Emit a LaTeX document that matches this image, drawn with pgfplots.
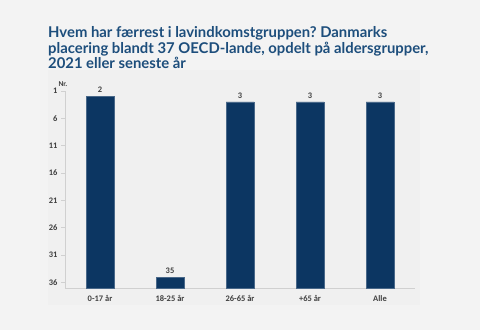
\documentclass[border=0pt]{standalone}
\usepackage{pgfplots}
\pgfplotsset{compat=1.18}
\usepackage{pgfplotstable}
\usepackage{fontspec}
\setmainfont{Liberation Sans}
\newfontfamily\calib{Carlito}
\newfontfamily\titlefont{Lato}
\definecolor{bg}{HTML}{F3F3F3}
\definecolor{panel}{HTML}{F0F0F0}
\definecolor{navy}{HTML}{0C3662}
\definecolor{titleblue}{HTML}{1D4E7C}
\definecolor{axgray}{HTML}{D0D0D0}
\definecolor{txt}{HTML}{404040}

\pgfplotstableread{
x rank
0 2
1 35
2 3
3 3
4 3
}\ranks

\begin{document}
\frenchspacing
\begin{tikzpicture}[x=1bp,y=1bp]
\fill[bg] (0,0) rectangle (480,330);
\fill[panel] (48,25) rectangle (420,260);
\begin{scope}[every node/.style={anchor=base west, font=\titlefont\bfseries\fontsize{14.9}{16}\selectfont, text=titleblue, inner sep=0}]
\node at (48,293) {Hvem har færrest i lavindkomstgruppen? Danmarks};
\node at (48,277) {placering blandt 37 OECD-lande, opdelt på aldersgrupper,};
\node at (48,262) {2021 eller seneste år};
\end{scope}
\node[font=\calib\bfseries\fontsize{7.5}{8}\selectfont, text=txt] at (63,246) {Nr.};
\begin{axis}[
  at={(65bp,42bp)}, anchor=south west,
  scale only axis, width=350bp, height=197bp,
  xmin=-0.5, xmax=4.5, ymin=0, ymax=36,
  enlargelimits=false, clip=false,
  axis x line*=bottom, axis y line*=left,
  axis line style={axgray, line width=0.9bp},
  ybar, bar width=28bp,
  xtick={0,1,2,3,4},
  xticklabels={0-17 år, 18-25 år, 26-65 år, +65 år, Alle},
  x tick style={draw=none},
  ytick={36,31,26,21,16,11,6,1},
  yticklabels={1,6,11,16,21,26,31,36},
  y tick style={axgray, line width=0.8bp},
  tick align=outside, major tick length=4bp,
  tick label style={font=\calib\bfseries\fontsize{8.5}{9}\selectfont, text=txt},
  /pgf/number format/assume math mode=true,
  point meta=explicit,
  nodes near coords,
  nodes near coords style={font=\calib\bfseries\fontsize{8.5}{9}\selectfont, text=txt},
]
\addplot[fill=navy, draw=navy!75!white, line width=0.5bp] table[x=x, y expr=37-\thisrow{rank}, meta=rank] {\ranks};
\end{axis}
\end{tikzpicture}
\end{document}
